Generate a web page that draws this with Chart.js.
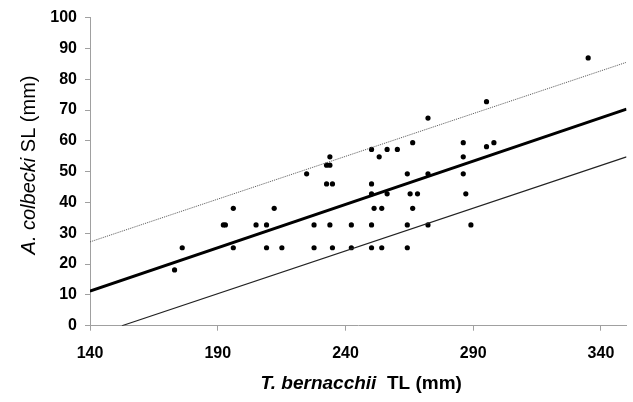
<!DOCTYPE html>
<html>
<head>
<meta charset="utf-8">
<script src="https://cdn.jsdelivr.net/npm/chart.js@4.4.1/dist/chart.umd.min.js"></script>
<style>
    body { margin: 0; background: #fff; }
    #wrap { width: 633px; height: 402px; }
</style>
</head>
<body>
<div id="wrap"><canvas id="scatterChart" width="633" height="402"></canvas></div>
<script>
// T. bernacchii TL (x) vs A. colbecki SL (y)
const fishTL = [173.1, 176.1, 192.2, 193.0, 196.1, 196.1, 205.0, 209.1, 209.1, 212.1, 215.1,
    224.8, 227.7, 227.7, 232.6, 233.9, 233.9, 232.6, 234.9, 233.9, 234.9, 242.3, 242.3,
    250.2, 250.2, 250.2, 250.2, 250.2, 251.2, 253.2, 254.2, 254.2, 256.3, 256.3, 260.3,
    264.2, 264.2, 264.2, 265.3, 266.3, 266.3, 268.2, 272.3, 272.3, 272.3,
    286.1, 286.1, 286.1, 287.1, 289.1, 295.2, 295.2, 298.1, 335.0];
const fishSL = [18.1, 25.3, 32.7, 32.7, 38.1, 25.3, 32.7, 32.7, 25.3, 38.1, 25.3,
    49.3, 32.7, 25.3, 52.1, 52.1, 54.8, 46.0, 46.0, 32.7, 25.3, 32.7, 25.3,
    57.2, 46.0, 42.8, 32.7, 25.3, 38.1, 54.8, 38.1, 25.3, 57.2, 42.8, 57.2,
    49.3, 32.7, 25.3, 42.8, 59.4, 38.1, 42.8, 67.4, 49.3, 32.7,
    59.4, 54.8, 49.3, 42.8, 32.7, 72.7, 58.1, 59.4, 86.9];

// regression line and the two interval lines (end points)
const fitTL = [140, 350];
const fitSL = [11.2, 70.3];
const upperTL = [140, 350];
const upperSL = [27.2, 85.5];
const lowerTL = [152.5, 350];
const lowerSL = [0, 54.8];

const xTicks = [140, 190, 240, 290, 340];
const yMin = 0, yMax = 100, yStep = 10;

const FONT = "'Liberation Sans', Arial, sans-serif";

function toPoints(xs, ys) {
    return xs.map((x, i) => ({ x: x, y: ys[i] }));
}

// axis titles have italic species names, so draw them by hand
const axisTitles = {
    id: 'axisTitles',
    afterDraw(chart) {
        const ctx = chart.ctx;
        const area = chart.chartArea;

        function drawParts(parts, cx, cy) {
            let total = 0;
            parts.forEach(p => { ctx.font = p.font; p.w = ctx.measureText(p.text).width; total += p.w; });
            let x = cx - total / 2;
            parts.forEach(p => {
                ctx.font = p.font;
                ctx.fillText(p.text, x, cy);
                x += p.w;
            });
        }

        ctx.save();
        ctx.fillStyle = '#000';
        ctx.textBaseline = 'middle';
        ctx.textAlign = 'left';

        // x title
        drawParts([
            { text: 'T. bernacchii', font: 'italic bold 19px ' + FONT },
            { text: '  TL (mm)', font: 'bold 19px ' + FONT }
        ], (area.left + area.right) / 2 + 3, 384);

        // y title, rotated
        ctx.translate(29, 165);
        ctx.rotate(-Math.PI / 2);
        drawParts([
            { text: 'A. colbecki', font: 'italic 20px ' + FONT },
            { text: ' SL (mm)', font: '20px ' + FONT }
        ], 0, 0);
        ctx.restore();
    }
};

document.addEventListener("DOMContentLoaded", function () {
    const ctx = document.getElementById('scatterChart').getContext('2d');
    new Chart(ctx, {
        type: 'scatter',
        data: {
            datasets: [
                {
                    label: 'Upper',
                    data: toPoints(upperTL, upperSL),
                    showLine: true,
                    borderColor: '#555',
                    borderWidth: 1,
                    borderDash: [1, 1],
                    pointRadius: 0
                },
                {
                    label: 'Fit',
                    data: toPoints(fitTL, fitSL),
                    showLine: true,
                    borderColor: '#000',
                    borderWidth: 3,
                    pointRadius: 0
                },
                {
                    label: 'Lower',
                    data: toPoints(lowerTL, lowerSL),
                    showLine: true,
                    borderColor: '#222',
                    borderWidth: 1.2,
                    pointRadius: 0
                },
                {
                    label: 'Fish',
                    data: toPoints(fishTL, fishSL),
                    backgroundColor: '#000',
                    borderColor: '#000',
                    borderWidth: 0,
                    pointRadius: 2.6
                }
            ]
        },
        options: {
            responsive: false,
            animation: false,
            layout: { padding: { top: 14, right: 6.5, bottom: 0, left: 0 } },
            plugins: {
                legend: { display: false },
                tooltip: { enabled: false }
            },
            scales: {
                x: {
                    type: 'linear',
                    min: 140,
                    max: 350,
                    afterBuildTicks: scale => { scale.ticks = xTicks.map(v => ({ value: v })); },
                    afterFit: scale => { scale.height = 76.3; },
                    grid: { drawOnChartArea: false, color: '#a0a0a0', tickLength: 5 },
                    border: { color: '#a0a0a0', width: 1 },
                    ticks: {
                        padding: 13,
                        color: '#000',
                        maxRotation: 0,
                        font: { family: FONT, size: 16, weight: 'bold' }
                    }
                },
                y: {
                    min: yMin,
                    max: yMax,
                    afterFit: scale => { scale.width = 90; },
                    grid: { drawOnChartArea: false, color: '#a0a0a0', tickLength: 5 },
                    border: { color: '#a0a0a0', width: 1 },
                    ticks: {
                        stepSize: yStep,
                        padding: 8,
                        color: '#000',
                        font: { family: FONT, size: 16, weight: 'bold' }
                    }
                }
            }
        },
        plugins: [axisTitles]
    });
});
</script>
</body>
</html>
